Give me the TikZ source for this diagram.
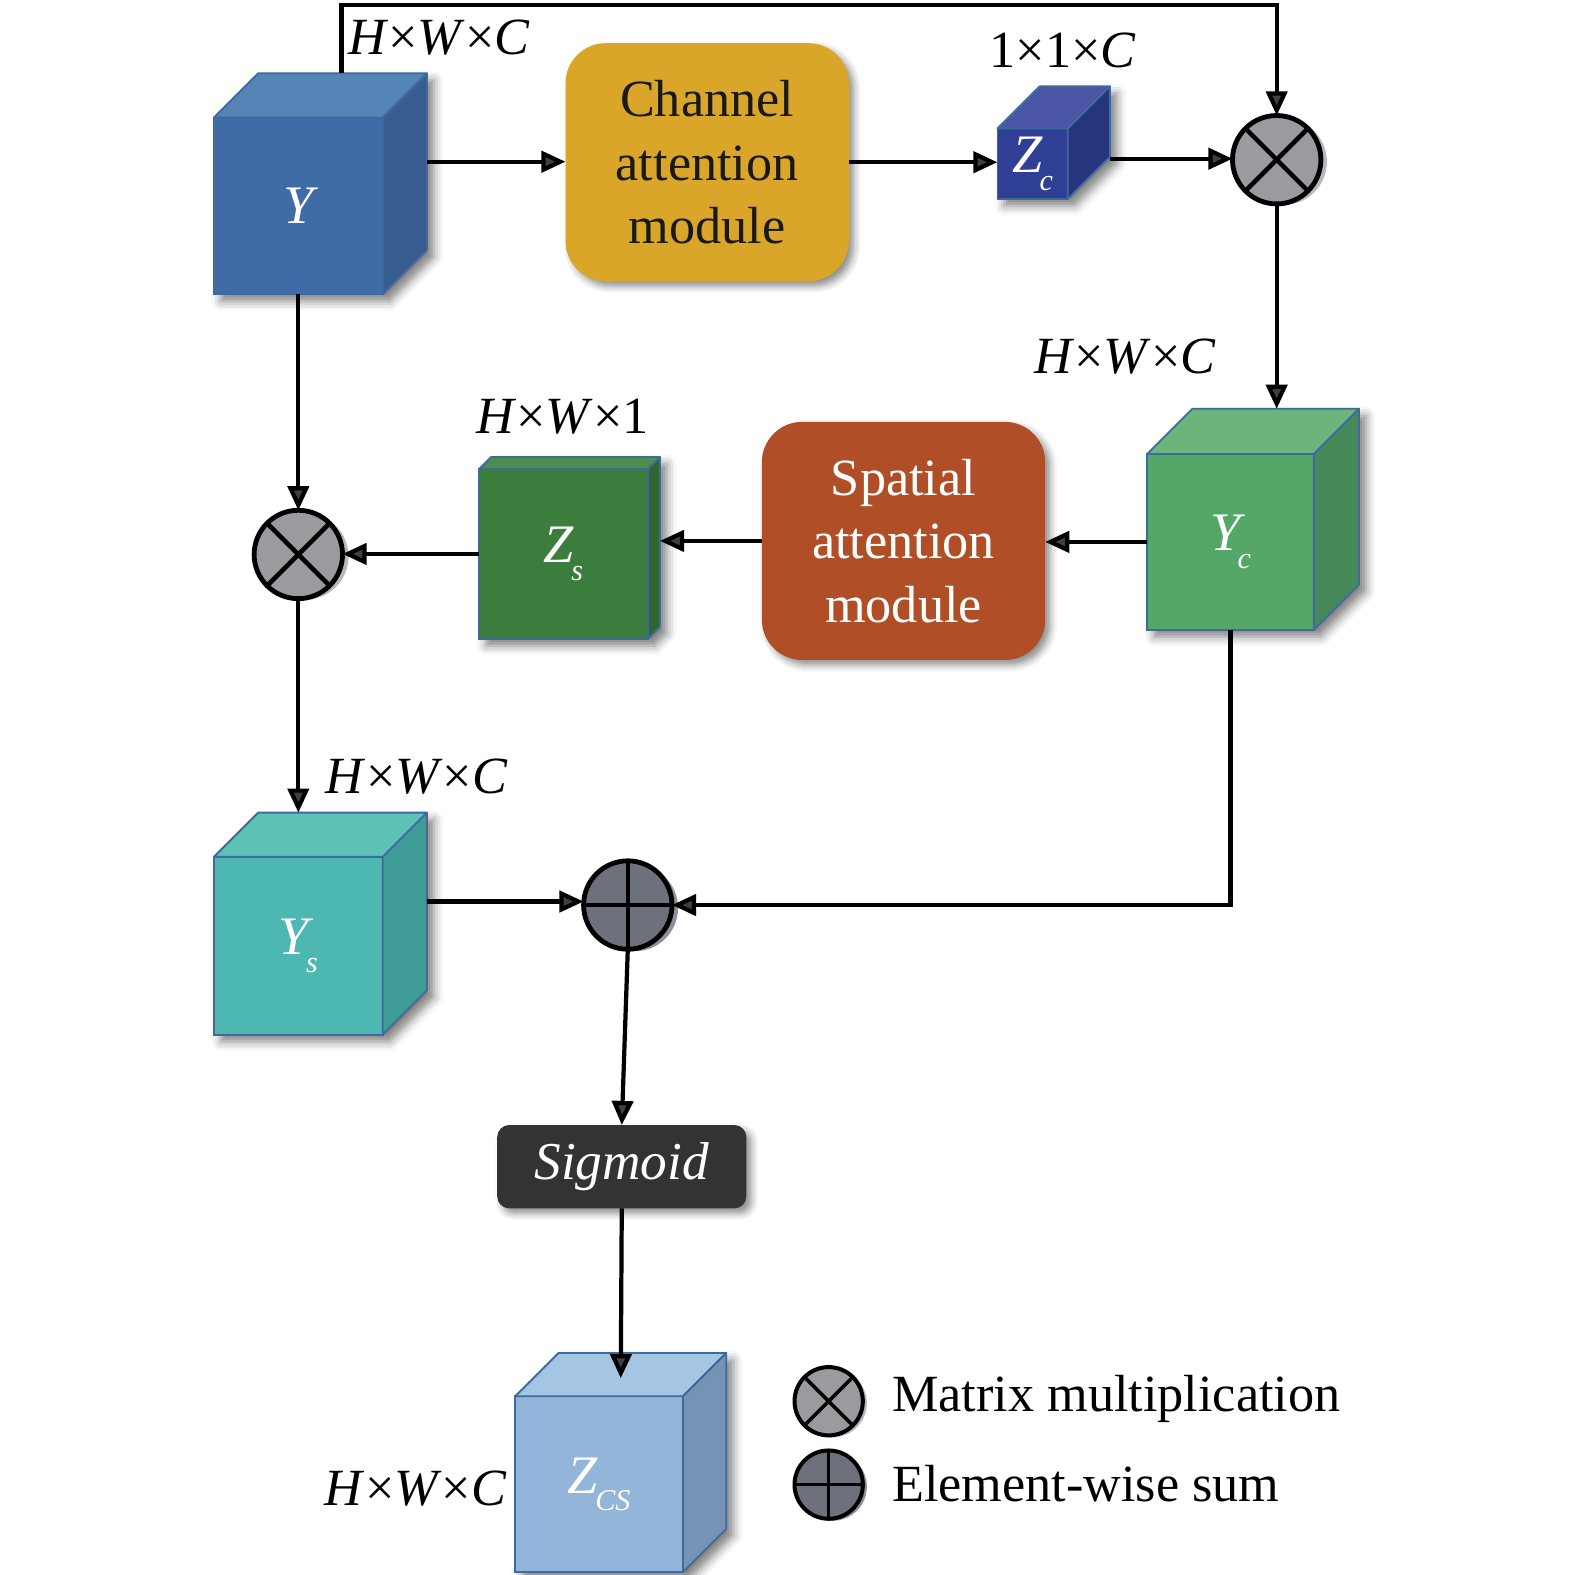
\documentclass[tikz,border=0pt]{standalone}
\usepackage{fontspec}
\setmainfont{Liberation Serif}
\usetikzlibrary{arrows.meta,calc,shadows.blur}

\definecolor{cubeborder}{HTML}{3E6A9C}
\definecolor{Yfront}{HTML}{3F6BA7}
\definecolor{Ytop}{HTML}{5584B7}
\definecolor{Yside}{HTML}{385C8F}
\definecolor{Zcfront}{HTML}{303F96}
\definecolor{Zctop}{HTML}{4A55A6}
\definecolor{Zcside}{HTML}{27347E}
\definecolor{Ycfront}{HTML}{55A768}
\definecolor{Yctop}{HTML}{6BB57C}
\definecolor{Ycside}{HTML}{478A59}
\definecolor{Zsfront}{HTML}{3B7D3D}
\definecolor{Zstop}{HTML}{4B8E4D}
\definecolor{Zsside}{HTML}{2F6632}
\definecolor{Ysfront}{HTML}{4DB8B1}
\definecolor{Ystop}{HTML}{5DC1B8}
\definecolor{Ysside}{HTML}{3F9C97}
\definecolor{Zcsfront}{HTML}{93B5D9}
\definecolor{Zcstop}{HTML}{A5C6E2}
\definecolor{Zcsside}{HTML}{7593B7}
\definecolor{chancol}{HTML}{DAA62A}
\definecolor{spatcol}{HTML}{B04E27}
\definecolor{sigcol}{HTML}{333335}
\definecolor{multcol}{HTML}{9B9B9F}
\definecolor{pluscol}{HTML}{6D717C}
\definecolor{crescent}{HTML}{B8B8BC}
\definecolor{crescentdark}{HTML}{8E919A}

\newcommand\bigfont{\fontsize{52}{63}\selectfont}
\newcommand\mysub[1]{\kern-0.05em\raisebox{-0.32em}{\fontsize{30}{30}\selectfont\itshape #1}}
\newcommand\hwc[1]{\textit{H}×\textit{W}×#1}

% #1 name, #2 x, #3 y (front top-left), #4 w, #5 h, #6 depth, #7 colour prefix, #8 label
\newcommand\mycube[8]{%
  \path[cubeshadow] (#2,#3) -- ++(#6,-#6) -- ++(#4,0) -- ++(0,#5) -- ++(-#6,#6) -- ++(-#4,0) -- cycle;
  \node[cubeface, fill=#7front, minimum width=#4, minimum height=#5, anchor=north west] (#1) at (#2,#3) {#8};
  \filldraw[fill=#7top, draw=cubeborder, line width=1.8pt, line join=round] (#1.north west) -- ++(#6,-#6) -- ++(#4,0) -- (#1.north east) -- cycle;
  \filldraw[fill=#7side, draw=cubeborder, line width=1.8pt, line join=round] (#1.north east) -- ++(#6,-#6) -- ++(0,#5) -- (#1.south east) -- cycle;
}

\tikzset{
  conn/.style={line width=4.2pt, -{Triangle[length=24pt,width=21pt]}},
  cubeface/.style={rectangle, draw=cubeborder, line width=1.8pt, outer sep=0pt, inner sep=0pt, text=white, font=\fontsize{54}{60}\selectfont\itshape},
  cubeshadow/.style={fill=white, blur shadow={shadow xshift=7pt, shadow yshift=-7pt, shadow blur radius=9pt, shadow opacity=50}},
  modbox/.style={rectangle, rounded corners=40pt, minimum width=282, minimum height=237, align=center, font=\bigfont, inner sep=0pt, outer sep=0pt,
     blur shadow={shadow xshift=5pt, shadow yshift=-5pt, shadow blur radius=7pt, shadow opacity=45}},
  dimlabel/.style={font=\bigfont, inner sep=0pt},
  multop/.style={circle, draw=black, fill=multcol, line width=4.8pt, minimum size=88, inner sep=0pt, outer sep=0pt},
  plusop/.style={circle, draw=black, fill=pluscol, line width=4.8pt, minimum size=88, inner sep=0pt, outer sep=0pt},
  opline/.style={line width=4.5pt},
}

\begin{document}
\begin{tikzpicture}[x=1pt,y=-1pt]
\useasboundingbox (0,0) rectangle (1568,1567);

% cubes
\mycube{Y}{213}{117}{168}{176}{44}{Y}{Y}
\mycube{Zc}{993}{128}{70}{70}{42}{Zc}{Z\mysub{c}}
\mycube{Yc}{1142}{452}{166}{175}{45}{Yc}{Y\mysub{c}}
\mycube{Zs}{477}{467}{168}{169}{12}{Zs}{Z\mysub{s}}
\mycube{Ys}{213}{853}{168}{177}{44}{Ys}{Y\mysub{s}}
\mycube{Zcs}{513}{1390}{167}{175}{43}{Zcs}{Z\mysub{CS}}

% modules
\node[modbox, fill=chancol, text=black!90] (chan) at (704,161.5) {Channel\\attention\\module};
\node[modbox, fill=spatcol, text=white] (spat) at (899.5,538.5) {Spatial\\attention\\module};
\node[rectangle, rounded corners=12pt, fill=sigcol, minimum width=248, minimum height=83, inner sep=0pt, outer sep=0pt, text=white,
      font=\fontsize{53}{60}\selectfont\itshape,
      blur shadow={shadow xshift=5pt, shadow yshift=-5pt, shadow blur radius=7pt, shadow opacity=45}] (sig) at (619,1161.5) {Sigmoid};

% operators
\fill[crescent] (1278,161) circle (43);
\node[multop] (m1) at (1271,159) {};
\draw[opline] (m1.north east) -- (m1.south west) (m1.north west) -- (m1.south east);

\fill[crescent] (304,554) circle (43);
\node[multop] (m2) at (297,552) {};
\draw[opline] (m2.north east) -- (m2.south west) (m2.north west) -- (m2.south east);

\fill[crescentdark] (632,904) circle (43);
\node[plusop] (p1) at (625,901) {};
\draw[opline] (p1.north) -- (p1.south) (p1.west) -- (p1.east);

% legend
\fill[crescent] (829,1397) circle (34);
\node[multop, minimum size=68, line width=4pt] (lm) at (825,1395) {};
\draw[line width=3.5pt] (lm.north east) -- (lm.south west) (lm.north west) -- (lm.south east);
\fill[crescentdark] (829,1480) circle (34);
\node[plusop, minimum size=68, line width=4pt] (lp) at (825,1478) {};
\draw[line width=3.5pt] (lp.north) -- (lp.south) (lp.west) -- (lp.east);
\node[dimlabel, anchor=west] (lmt) at (888,1393) {Matrix multiplication};
\node[dimlabel, anchor=west] (lpt) at (888,1477) {Element-wise sum};

% dimension labels
\node[dimlabel] (d1) at (437,37) {\hwc{\textit{C}}};
\node[dimlabel] (d2) at (1058,50) {1×1×\textit{C}};
\node[dimlabel] (d3) at (1120,355) {\hwc{\textit{C}}};
\node[dimlabel] (d4) at (560,415) {\hwc{1}};
\node[dimlabel] (d5) at (415,773) {\hwc{\textit{C}}};
\node[dimlabel] (d6) at (414,1482) {\hwc{\textit{C}}};

% connection points
\coordinate (Ytop) at (340,73);
\coordinate (topbend) at (1271,5);
\coordinate (Yout) at ($(Y.east)+(44,-44)$);
\coordinate (Zcout) at ($(Zc.east)+(42,-5)$);
\coordinate (Ycin) at (1271,407);
\coordinate (Zsin) at (657,538.5);
\coordinate (Ysin) at (297,809);
\coordinate (Ysout) at ($(Ys.east)+(44,-44)$);
\coordinate (Zcsin) at (618,1372);

% connectors
\draw[conn] (Ytop) |- (topbend) -- (m1.north);
\draw[conn] (Yout) -- (Yout -| chan.west);
\draw[conn] (chan.east) -- (chan.east -| Zc.west);
\draw[conn] (Zcout) -- (Zcout -| m1.west);
\draw[conn] (m1.south) -- (Ycin);
\draw[conn] (Yc.west) -- (Yc.west -| spat.east);
\draw[conn] (spat.west) -- (Zsin);
\draw[conn] (Zs.west) -- (Zs.west -| m2.east);
\draw[conn] (Y.south) -- (m2.north);
\draw[conn] (m2.south) -- (Ysin);
\draw[conn] (Ysout) -- (Ysout -| p1.west);
\draw[conn] (Yc.south) |- (p1.east);
\draw[conn] (p1.south) -- (sig.north);
\draw[conn] (sig.south) -- (Zcsin);
\end{tikzpicture}
\end{document}
